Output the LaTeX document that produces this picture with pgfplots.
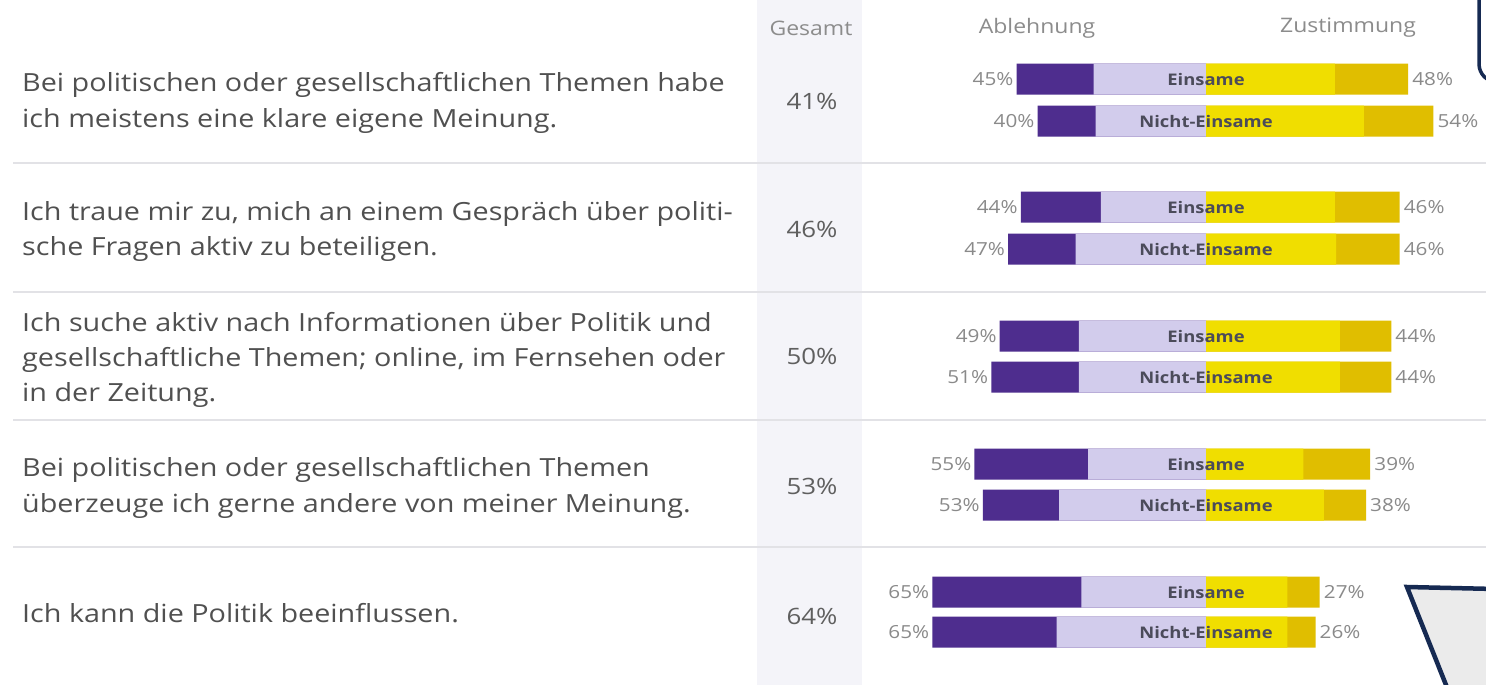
\documentclass[border=0pt]{standalone}
\usepackage{pgfplots}
\pgfplotsset{compat=1.18}
\usepackage{pgfplotstable}
\usepackage{fontspec}
\setmainfont{Open Sans}[FakeStretch=1.15]

\definecolor{cdark}{RGB}{78,45,142}
\definecolor{clav}{RGB}{210,204,236}
\definecolor{cyel}{RGB}{240,222,0}
\definecolor{cgold}{RGB}{224,190,0}
\definecolor{ctext}{RGB}{80,80,80}
\definecolor{cges}{RGB}{95,95,95}
\definecolor{clbl}{RGB}{138,138,138}
\definecolor{chead}{RGB}{140,140,140}
\definecolor{cbar}{RGB}{75,75,90}
\definecolor{csep}{RGB}{226,226,230}
\definecolor{cband}{RGB}{244,244,249}
\definecolor{cnavy}{RGB}{22,42,82}
\definecolor{cbubble}{RGB}{235,235,235}

\newcommand{\stmt}{\fontsize{25}{30}\selectfont}
\newcommand{\ges}{\fontsize{22.5}{26}\selectfont}
\newcommand{\head}{\fontsize{20}{24}\selectfont}
\newcommand{\lbl}{\fontsize{18}{21}\selectfont}
\newcommand{\barlbl}{\fontsize{16}{19}\selectfont\bfseries}

% y = bar centre (px from top); lav = inner disagreement; ltot = total disagreement;
% yel = inner agreement; rtot = total agreement
\pgfplotstableread{
y    lav   ltot  yel   rtot
79   26.7  45    30.6  48
121  26.2  40    37.5  54
207  25.0  44    30.6  46
249  31.0  47    30.9  46
336  30.2  49    31.8  44
377  30.2  51    31.8  44
464  28.0  55    23.1  39
505  34.9  53    28.0  38
592  29.6  65    19.3  27
632  35.5  65    19.3  26
}\bars

\begin{document}
\begin{tikzpicture}
\path[use as bounding box] (0pt,0pt) rectangle (1486pt,-685pt);
\fill[white] (0pt,0pt) rectangle (1486pt,-685pt);
% Gesamt band
\fill[cband] (757pt,0pt) rectangle (862pt,-685pt);
% separators
\foreach \yy in {163,292,420,547}{
  \draw[csep, line width=2.5pt] (13pt,-\yy pt) -- (1486pt,-\yy pt);
}

\begin{axis}[
  at={(0pt,0pt)}, anchor=north west,
  width=1486pt, height=685pt, scale only axis,
  xmin=-286.46, xmax=66.51, ymin=0, ymax=685, y dir=reverse,
  hide axis, clip=false,
]
\addplot[xbar, bar shift=0pt, bar width=31, fill=cdark, draw=none,
  point meta=explicit symbolic, nodes near coords={\pgfplotspointmeta\%},
  every node near coord/.append style={anchor=east, font=\lbl, text=clbl, inner sep=0pt, xshift=-3pt}]
  table[x expr=-\thisrow{ltot}, y=y, meta=ltot] {\bars};
\addplot[xbar, bar shift=0pt, bar width=31, fill=clav, draw=none]
  table[x expr=-\thisrow{lav}, y=y] {\bars};
\addplot[xbar, bar shift=0pt, bar width=31, fill=cgold, draw=none,
  point meta=explicit symbolic, nodes near coords={\pgfplotspointmeta\%},
  every node near coord/.append style={anchor=west, font=\lbl, text=clbl, inner sep=0pt, xshift=4pt}]
  table[x=rtot, y=y, meta=rtot] {\bars};
\addplot[xbar, bar shift=0pt, bar width=31, fill=cyel, draw=none]
  table[x=yel, y=y] {\bars};

\node[font=\barlbl, text=cbar] at (axis cs:0,79) {Einsame};
\node[font=\barlbl, text=cbar] at (axis cs:0,121) {Nicht-Einsame};
\node[font=\barlbl, text=cbar] at (axis cs:0,207) {Einsame};
\node[font=\barlbl, text=cbar] at (axis cs:0,249) {Nicht-Einsame};
\node[font=\barlbl, text=cbar] at (axis cs:0,336) {Einsame};
\node[font=\barlbl, text=cbar] at (axis cs:0,377) {Nicht-Einsame};
\node[font=\barlbl, text=cbar] at (axis cs:0,464) {Einsame};
\node[font=\barlbl, text=cbar] at (axis cs:0,505) {Nicht-Einsame};
\node[font=\barlbl, text=cbar] at (axis cs:0,592) {Einsame};
\node[font=\barlbl, text=cbar] at (axis cs:0,632) {Nicht-Einsame};
\end{axis}

% headers
\node[font=\head, text=chead] at (811pt,-28pt) {Gesamt};
\node[font=\head, text=chead] at (1037pt,-28pt) {Ablehnung};
\node[font=\head, text=chead] at (1348pt,-28pt) {Zustimmung};

% Gesamt values
\node[font=\ges, text=cges] at (812pt,-101pt) {41\%};
\node[font=\ges, text=cges] at (812pt,-229pt) {46\%};
\node[font=\ges, text=cges] at (812pt,-356pt) {50\%};
\node[font=\ges, text=cges] at (812pt,-486pt) {53\%};
\node[font=\ges, text=cges] at (812pt,-616pt) {64\%};

% statements
\begin{scope}[every node/.style={anchor=mid west, inner sep=0pt, font=\stmt, text=ctext}]
\node at (22pt,-89pt) {Bei politischen oder gesellschaftlichen Themen habe};
\node at (22pt,-124.5pt) {ich meistens eine klare eigene Meinung.};
\node at (22pt,-217.5pt) {Ich traue mir zu, mich an einem Gespräch über politi-};
\node at (22pt,-253pt) {sche Fragen aktiv zu beteiligen.};
\node at (22pt,-328.5pt) {Ich suche aktiv nach Informationen über Politik und};
\node at (22pt,-363.5pt) {gesellschaftliche Themen; online, im Fernsehen oder};
\node at (22pt,-398.5pt) {in der Zeitung.};
\node at (22pt,-474pt) {Bei politischen oder gesellschaftlichen Themen};
\node at (22pt,-509.5pt) {überzeuge ich gerne andere von meiner Meinung.};
\node at (22pt,-619.5pt) {Ich kann die Politik beeinflussen.};
\end{scope}

% overlay decorations (screen artefacts)
\draw[cnavy, line width=3.5pt, rounded corners=18pt] (1479pt,5pt) -- (1479pt,-82pt) -- (1540pt,-82pt);
\filldraw[fill=cbubble, draw=cnavy, line width=4.5pt, line join=miter]
  (1540pt,-590pt) -- (1407pt,-587pt) -- (1452pt,-700pt) -- (1540pt,-700pt);
\end{tikzpicture}
\end{document}
